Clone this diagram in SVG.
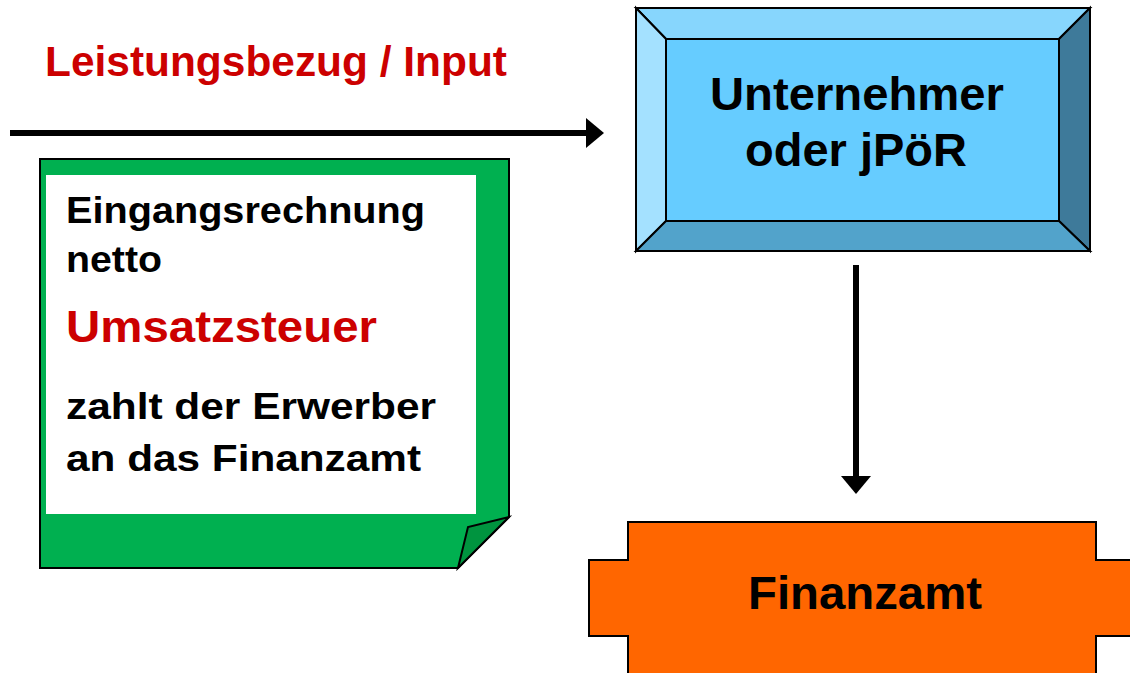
<svg xmlns="http://www.w3.org/2000/svg" width="1130" height="673" viewBox="0 0 1130 673">
  <style>
    .lbl { font-family: "Liberation Sans", Arial, sans-serif; font-weight: bold; }
    .red { fill: #CC0000; }
    .blk { fill: #000000; }
    .edge { stroke: #000000; stroke-width: 2; stroke-linejoin: miter; }
    .conn { stroke: #000000; stroke-width: 6; fill: none; }
  </style>
  <defs>
    <marker id="head" markerUnits="userSpaceOnUse" markerWidth="20" markerHeight="32" refX="1" refY="15" orient="auto">
      <path d="M0,0 L18,15 L0,30 Z" fill="#000000"/>
    </marker>
  </defs>

  <rect x="0" y="0" width="1130" height="673" fill="#FFFFFF"/>

  <!-- heading above the input arrow -->
  <text class="lbl red" x="45" y="76" font-size="43" textLength="462" lengthAdjust="spacingAndGlyphs">Leistungsbezug / Input</text>

  <!-- connectors -->
  <g id="connectors">
    <line class="conn" x1="10" y1="133" x2="587" y2="133" marker-end="url(#head)"/>
    <line class="conn" x1="856" y1="265" x2="856" y2="477" marker-end="url(#head)"/>
  </g>

  <!-- bevelled box: Unternehmer oder jPöR -->
  <g id="unternehmer">
    <polygon class="edge" points="636,8 1090,8 1059,39 666,39" fill="#87D6FD"/>
    <polygon class="edge" points="636,8 666,39 666,221 636,251" fill="#A4E1FF"/>
    <polygon class="edge" points="1090,8 1090,251 1059,221 1059,39" fill="#3E7A9A"/>
    <polygon class="edge" points="636,251 666,221 1059,221 1090,251" fill="#52A3CB"/>
    <rect class="edge" x="666" y="39" width="393" height="182" fill="#66CCFF"/>
    <text class="lbl blk" x="857" y="110" font-size="47" text-anchor="middle" textLength="294" lengthAdjust="spacingAndGlyphs">Unternehmer</text>
    <text class="lbl blk" x="856" y="166" font-size="47" text-anchor="middle" textLength="222" lengthAdjust="spacingAndGlyphs">oder jPöR</text>
  </g>

  <!-- note with folded corner -->
  <g id="rechnung">
    <path class="edge" d="M40,159 H509 V517 L458,568 H40 Z" fill="#00B050"/>
    <path class="edge" d="M458,568 L468,527 L509,517 Z" fill="#00943F"/>
    <rect x="46" y="175" width="430" height="339" fill="#FFFFFF"/>
    <text class="lbl blk" x="66" y="223" font-size="37" textLength="359" lengthAdjust="spacingAndGlyphs">Eingangsrechnung</text>
    <text class="lbl blk" x="66" y="272" font-size="37" textLength="96" lengthAdjust="spacingAndGlyphs">netto</text>
    <text class="lbl red" x="66" y="342" font-size="45" textLength="311" lengthAdjust="spacingAndGlyphs">Umsatzsteuer</text>
    <text class="lbl blk" x="66" y="419" font-size="37" textLength="370" lengthAdjust="spacingAndGlyphs">zahlt der Erwerber</text>
    <text class="lbl blk" x="66" y="471" font-size="37" textLength="355" lengthAdjust="spacingAndGlyphs">an das Finanzamt</text>
  </g>

  <!-- Finanzamt -->
  <g id="finanzamt">
    <path class="edge" d="M628,522 H1096 V560 H1134 V636 H1096 V676 H628 V636 H589 V560 H628 Z" fill="#FF6600"/>
    <text class="lbl blk" x="865" y="609" font-size="47" text-anchor="middle" textLength="234" lengthAdjust="spacingAndGlyphs">Finanzamt</text>
  </g>
</svg>
